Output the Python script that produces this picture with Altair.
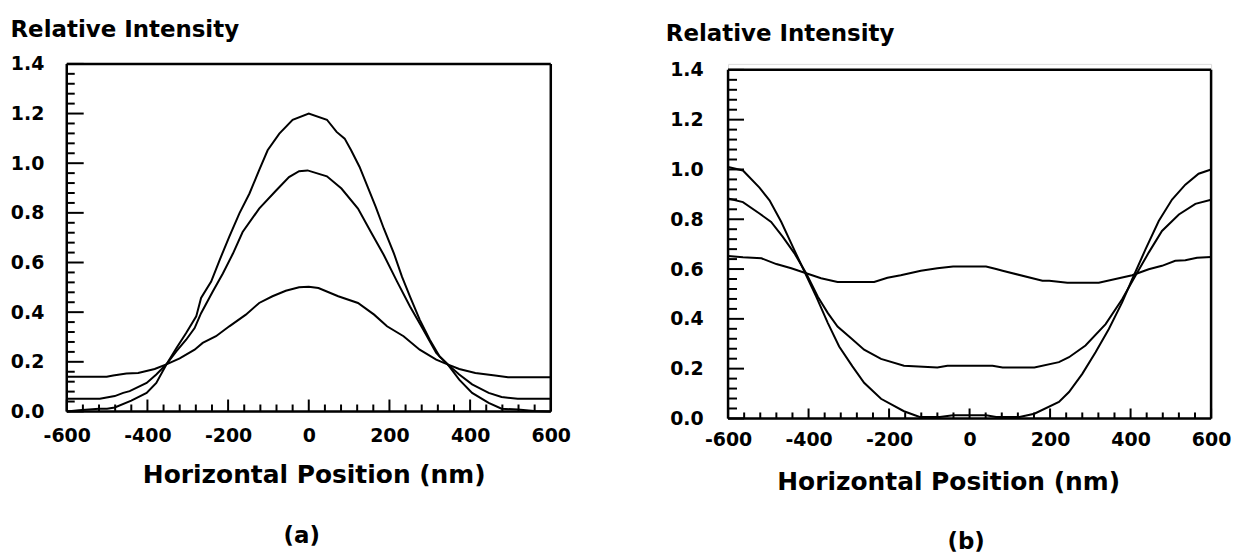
import altair as alt
import pandas as pd

# ---------------- data: panel (a) ----------------
a_hi_x = [-600, -570, -520, -500, -481, -440, -402, -378, -353, -328, -304, -279, -267, -242, -221,
          -197, -172, -147, -123, -102, -73, -40, 0, 45, 69, 89, 105, 126, 146, 166, 186, 211, 231,
          251, 275, 300, 324, 344, 373, 405, 446, 478, 518, 559, 600]
a_hi_y = [0.0, 0.005, 0.011, 0.011, 0.016, 0.044, 0.075, 0.115, 0.189, 0.256, 0.316, 0.383, 0.457,
          0.523, 0.610, 0.704, 0.798, 0.878, 0.972, 1.052, 1.119, 1.175, 1.2, 1.175, 1.126, 1.099,
          1.052, 0.985, 0.905, 0.824, 0.737, 0.637, 0.543, 0.463, 0.370, 0.289, 0.222, 0.191, 0.128,
          0.075, 0.035, 0.011, 0.008, 0.002, 0.0]

a_mid_x = [-600, -518, -481, -460, -444, -402, -378, -353, -328, -304, -283, -267, -238, -213, -188,
           -164, -123, -81, -49, -24, -3, 45, 81, 122, 154, 186, 219, 251, 284, 316, 344, 373, 405,
           446, 478, 518, 600]
a_mid_y = [0.051, 0.051, 0.062, 0.075, 0.082, 0.115, 0.149, 0.19, 0.243, 0.289, 0.336, 0.396, 0.483,
           0.556, 0.636, 0.723, 0.817, 0.890, 0.944, 0.968, 0.971, 0.947, 0.898, 0.817, 0.723, 0.630,
           0.523, 0.423, 0.329, 0.236, 0.19, 0.149, 0.109, 0.075, 0.058, 0.051, 0.051]

a_lo_x = [-600, -501, -485, -452, -423, -382, -353, -320, -283, -263, -230, -197, -156, -123, -90,
          -57, -24, 0, 24, 73, 122, 162, 194, 235, 275, 316, 344, 373, 413, 462, 494, 600]
a_lo_y = [0.14, 0.14, 0.145, 0.153, 0.155, 0.171, 0.19, 0.214, 0.249, 0.276, 0.303, 0.343, 0.390,
          0.437, 0.464, 0.486, 0.500, 0.502, 0.497, 0.464, 0.437, 0.390, 0.343, 0.303, 0.249, 0.209,
          0.19, 0.171, 0.155, 0.145, 0.138, 0.138]

# ---------------- data: panel (b) ----------------
b_hi_x = [-600, -563, -522, -497, -468, -439, -410, -381, -352, -324, -291, -262, -220, -163, -124,
          -74, -41, 41, 66, 124, 161, 222, 247, 280, 313, 346, 379, 404, 437, 470, 503, 536, 569, 600]
b_hi_y = [1.01, 0.996, 0.927, 0.876, 0.790, 0.689, 0.589, 0.489, 0.383, 0.289, 0.209, 0.143, 0.079,
          0.029, 0.006, 0.006, 0.013, 0.013, 0.006, 0.006, 0.019, 0.066, 0.106, 0.179, 0.266, 0.359,
          0.466, 0.559, 0.679, 0.793, 0.879, 0.939, 0.983, 1.0]

b_mid_x = [-600, -563, -522, -493, -464, -435, -406, -377, -352, -328, -295, -262, -220, -163, -80,
           -55, 57, 82, 161, 222, 247, 288, 338, 379, 412, 445, 478, 520, 561, 600]
b_mid_y = [0.883, 0.869, 0.823, 0.789, 0.729, 0.663, 0.583, 0.489, 0.423, 0.369, 0.323, 0.276, 0.239,
           0.212, 0.205, 0.212, 0.212, 0.205, 0.205, 0.226, 0.246, 0.293, 0.379, 0.479, 0.573, 0.666,
           0.753, 0.819, 0.862, 0.878]

b_lo_x = [-600, -563, -517, -480, -443, -406, -369, -328, -237, -204, -171, -121, -80, -41, 41, 66,
          82, 181, 198, 243, 321, 404, 445, 478, 511, 536, 565, 600]
b_lo_y = [0.652, 0.647, 0.643, 0.620, 0.603, 0.583, 0.563, 0.548, 0.548, 0.565, 0.575, 0.593, 0.603,
          0.610, 0.610, 0.600, 0.593, 0.553, 0.553, 0.545, 0.545, 0.575, 0.599, 0.613, 0.633, 0.635,
          0.645, 0.648]

# ---------------- axes ----------------
X_DOMAIN = [-600, 600]
Y_DOMAIN = [0, 1.4]
x_major = [-600, -400, -200, 0, 200, 400, 600]
y_major = [0.0, 0.2, 0.4, 0.6, 0.8, 1.0, 1.2, 1.4]
x_minor = [v for v in range(-560, 600, 40) if v % 200 != 0]
y_minor = [round(i * 0.04, 2) for i in range(1, 35) if i % 5 != 0]

Y_TITLE = "Relative Intensity"
X_TITLE = "Horizontal Position (nm)"
FONT = "DejaVu Sans"


def panel(curves, W, H, y_range, ylab_pad, ytitle_xy, xlab_pad, xtitle_xy, tag, tag_xy,
          ytick_len, xtick_len):
    plot_bottom = y_range[0]
    df = pd.concat([pd.DataFrame({"x": xs, "y": ys, "s": name})
                    for name, (xs, ys) in curves.items()], ignore_index=True)
    xscale = alt.Scale(domain=X_DOMAIN, nice=False, zero=False)
    yscale = alt.Scale(domain=Y_DOMAIN, nice=False, zero=False, range=y_range)

    x_axis = alt.Axis(values=x_major, labelExpr="'' + datum.value", ticks=False, domain=False,
                      grid=False, labelFont=FONT, labelFontSize=19, labelFontWeight="bold",
                      labelColor="black", labelPadding=xlab_pad, labelFlush=False,
                      labelOverlap=False, title=X_TITLE, titleFont=FONT, titleFontSize=25,
                      titleFontWeight="bold", titleColor="black", titleX=xtitle_xy[0],
                      titleY=xtitle_xy[1], titleAlign="center", titleBaseline="middle")
    y_axis = alt.Axis(values=y_major, format=".1f", ticks=False, domain=False, grid=False,
                      labelFont=FONT, labelFontSize=19, labelFontWeight="bold",
                      labelColor="black", labelPadding=ylab_pad, labelFlush=False,
                      labelOverlap=False, title=Y_TITLE, titleFont=FONT, titleFontSize=23,
                      titleFontWeight="bold", titleColor="black", titleAngle=0,
                      titleX=ytitle_xy[0], titleY=ytitle_xy[1], titleAlign="left",
                      titleBaseline="middle")

    def X(field):
        return alt.X(field, scale=xscale, axis=x_axis, title=X_TITLE)

    def Y(field):
        return alt.Y(field, scale=yscale, axis=y_axis, title=Y_TITLE)

    lines = alt.Chart(df).mark_line(color="black", strokeWidth=2).encode(
        x=X("x:Q"), y=Y("y:Q"), detail="s:N",
    )

    frame_df = pd.DataFrame({
        "x1": [X_DOMAIN[0], X_DOMAIN[0], X_DOMAIN[0], X_DOMAIN[1]],
        "x2": [X_DOMAIN[1], X_DOMAIN[1], X_DOMAIN[0], X_DOMAIN[1]],
        "y1": [Y_DOMAIN[0], Y_DOMAIN[1], Y_DOMAIN[0], Y_DOMAIN[0]],
        "y2": [Y_DOMAIN[0], Y_DOMAIN[1], Y_DOMAIN[1], Y_DOMAIN[1]],
    })
    frame = alt.Chart(frame_df).mark_rule(color="black", strokeWidth=2.5).encode(
        x=X("x1:Q"), x2="x2:Q", y=Y("y1:Q"), y2="y2:Q",
    )

    xt_major = alt.Chart(pd.DataFrame({"v": x_major})).mark_rule(color="black", strokeWidth=2).encode(
        x=X("v:Q"), y=alt.value(plot_bottom), y2=alt.value(plot_bottom - xtick_len[0]))
    xt_minor = alt.Chart(pd.DataFrame({"v": x_minor})).mark_rule(color="black", strokeWidth=2).encode(
        x=X("v:Q"), y=alt.value(plot_bottom), y2=alt.value(plot_bottom - xtick_len[1]))
    yt_major = alt.Chart(pd.DataFrame({"v": y_major})).mark_rule(color="black", strokeWidth=2).encode(
        y=Y("v:Q"), x=alt.value(0), x2=alt.value(ytick_len[0]))
    yt_minor = alt.Chart(pd.DataFrame({"v": y_minor})).mark_rule(color="black", strokeWidth=2).encode(
        y=Y("v:Q"), x=alt.value(0), x2=alt.value(ytick_len[1]))

    label = alt.Chart(pd.DataFrame({"t": [tag]})).mark_text(
        font=FONT, fontSize=23, fontWeight="bold", color="black", align="center",
        baseline="middle").encode(x=alt.value(tag_xy[0]), y=alt.value(tag_xy[1]), text="t:N")

    return alt.layer(lines, frame, xt_major, xt_minor, yt_major, yt_minor, label).properties(
        width=W, height=H)


left = panel({"hi": (a_hi_x, a_hi_y), "mid": (a_mid_x, a_mid_y), "lo": (a_lo_x, a_lo_y)},
             W=486, H=349, y_range=[349, 0], ylab_pad=23, ytitle_xy=(-57, -35),
             xlab_pad=15, xtitle_xy=(248, 63), tag="(a)", tag_xy=(236, 474),
             ytick_len=(17, 8), xtick_len=(12, 7))
right = panel({"hi": (b_hi_x, b_hi_y), "mid": (b_mid_x, b_mid_y), "lo": (b_lo_x, b_lo_y)},
              W=485, H=356, y_range=[356, 6], ylab_pad=25, ytitle_xy=(-63, -30),
              xlab_pad=12, xtitle_xy=(221, 63), tag="(b)", tag_xy=(239, 480),
              ytick_len=(16, 9), xtick_len=(10, 6))

chart = alt.hconcat(left, right, spacing=178, bounds="flush").properties(
    padding={"left": 1, "top": 8, "right": 0, "bottom": 0}
).configure_view(stroke=None).configure(background="white")

chart.save("out.html", embed_options={"renderer": "svg", "actions": False})
